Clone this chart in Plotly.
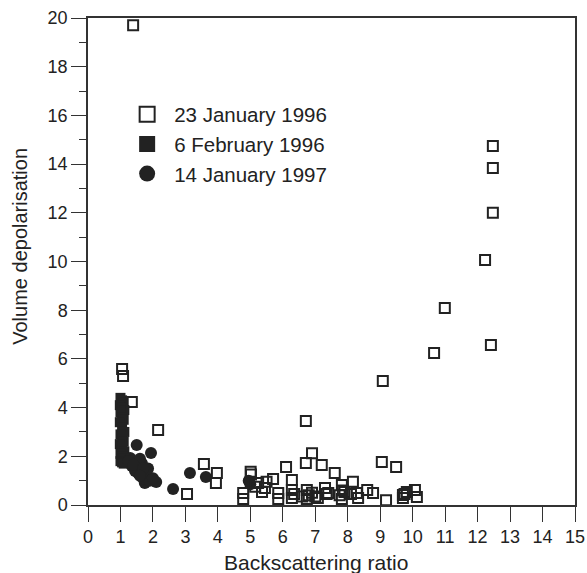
import plotly.graph_objects as go

# 23 January 1996 (open squares)
jan96_x = [1.39, 12.47, 12.47, 12.47, 12.23, 10.99, 10.66, 12.41, 9.08,
           1.05, 1.08, 1.35, 2.16, 3.57, 3.97, 3.94, 3.05,
           4.78, 4.78, 5.01, 5.02, 5.24, 5.36, 5.5, 5.7, 6.1, 5.86, 5.86,
           6.28, 6.28, 6.28, 6.71, 6.71, 6.9, 7.2, 6.74, 6.74, 7.08, 7.3,
           7.6, 8.16, 7.4, 7.82, 7.9, 7.82, 8.28, 8.32, 8.6, 8.78, 9.05,
           9.49, 9.18, 9.7, 9.82, 10.07, 10.13, 9.7,
           6.8, 6.9, 7.0, 7.75, 7.85, 5.15, 5.45, 6.35, 8.1, 9.75, 6.6, 7.35]
jan96_y = [19.7, 14.74, 13.84, 12.0, 10.06, 8.09, 6.24, 6.57, 5.09,
           5.59, 5.30, 4.23, 3.08, 1.68, 1.31, 0.9, 0.45,
           0.49, 0.25, 1.37, 1.25, 0.9, 0.53, 0.95, 1.07, 1.56, 0.49, 0.25,
           1.03, 0.62, 0.29, 3.45, 1.72, 2.13, 1.64, 0.62, 0.25, 0.29, 0.7,
           1.31, 0.95, 0.49, 0.82, 0.53, 0.25, 0.49, 0.29, 0.62, 0.49, 1.77,
           1.56, 0.2, 0.41, 0.53, 0.62, 0.33, 0.29,
           0.4, 0.5, 0.35, 0.4, 0.6, 0.75, 0.7, 0.45, 0.45, 0.45, 0.35, 0.45]

# 6 February 1996 (filled squares)
feb96_x = [1.0, 1.05, 1.1, 0.98, 1.05, 1.12, 1.0, 1.05, 1.1, 0.98, 1.05, 1.12,
           1.0, 1.05, 1.1, 0.98, 1.05, 1.12, 1.0, 1.05, 1.1, 1.0, 1.05, 1.1]
feb96_y = [4.4, 4.3, 4.2, 4.1, 4.0, 3.9, 3.8, 3.6, 3.5, 3.4, 3.2, 3.0,
           2.9, 2.8, 2.6, 2.5, 2.4, 2.2, 2.1, 2.0, 1.9, 1.8, 1.75, 1.7]

# 14 January 1997 (filled circles)
jan97_x = [1.5, 1.94, 1.3, 1.66, 1.8, 1.75, 2.1, 2.62, 3.14, 3.63, 1.35, 1.45,
           1.55, 1.7, 1.9, 2.0, 1.6, 1.25, 1.4, 1.85, 1.7, 1.6, 5.0, 4.95]
jan97_y = [2.46, 2.14, 1.93, 1.72, 1.31, 0.9, 0.94, 0.66, 1.31, 1.15, 1.6, 1.4,
           1.3, 1.1, 1.0, 1.1, 1.9, 1.8, 1.65, 1.5, 1.5, 1.2, 0.85, 1.0]

legend_names = ["23 January 1996", "6 February 1996", "14 January 1997"]
x_title = "Backscattering ratio"
y_title = "Volume depolarisation"

ink = "#222222"
axc = "#333333"
fam = "Liberation Sans, Arial, Helvetica, sans-serif"

fig = go.Figure()

fig.add_trace(go.Scatter(x=feb96_x, y=feb96_y, mode="markers", showlegend=False,
                         marker=dict(symbol="square", size=10, color=ink)))
fig.add_trace(go.Scatter(x=jan97_x, y=jan97_y, mode="markers", showlegend=False,
                         marker=dict(symbol="circle", size=12, color=ink)))
fig.add_trace(go.Scatter(x=jan96_x, y=jan96_y, mode="markers", showlegend=False,
                         marker=dict(symbol="square-open", size=10, color=ink,
                                     line=dict(width=2, color=ink))))

# legend entries
fig.add_trace(go.Scatter(x=[None], y=[None], mode="markers", name=legend_names[0],
                         legendgroup="a",
                         marker=dict(symbol="square-open", size=15, color=ink,
                                     line=dict(width=2, color=ink))))
fig.add_trace(go.Scatter(x=[None], y=[None], mode="markers", name=legend_names[1],
                         legendgroup="b",
                         marker=dict(symbol="square", size=16, color=ink)))
fig.add_trace(go.Scatter(x=[None], y=[None], mode="markers", name=legend_names[2],
                         legendgroup="c",
                         marker=dict(symbol="circle", size=16, color=ink)))

axis_common = dict(showline=True, linecolor=axc, linewidth=1.5, mirror=True,
                   ticks="outside", tickcolor=axc, tickwidth=1.2, ticklen=15,
                   showgrid=False, zeroline=False, automargin=False,
                   tickfont=dict(size=18, color=ink, family=fam))

fig.update_xaxes(range=[0, 15], dtick=1, tick0=0, **axis_common)
fig.update_yaxes(range=[0, 20], dtick=2, tick0=0,
                 minor=dict(dtick=1, ticks="outside", ticklen=7, tickcolor=axc, tickwidth=1.2),
                 **axis_common)

fig.update_layout(
    template="none",
    width=587, height=573,
    margin=dict(l=88, r=12, t=18, b=68, autoexpand=False),
    paper_bgcolor="white", plot_bgcolor="white",
    legend=dict(x=0.066, y=0.843, xanchor="left", yanchor="top", itemwidth=44,
                bgcolor="rgba(0,0,0,0)", tracegroupgap=0, traceorder="grouped",
                font=dict(size=20.5, color=ink, family=fam)),
    annotations=[
        dict(text=x_title, xref="paper", yref="paper", x=0.468, y=-0.119,
             xanchor="center", yanchor="middle", showarrow=False,
             font=dict(size=21, color=ink, family=fam)),
        dict(text=y_title, xref="paper", yref="paper", x=-0.140, y=0.532,
             xanchor="center", yanchor="middle", showarrow=False, textangle=-90,
             font=dict(size=20, color=ink, family=fam)),
    ],
)

fig.write_html(
    "out.html",
    config={"displayModeBar": False},
    post_script="document.body.style.margin='0';document.body.style.overflow='hidden';",
)
